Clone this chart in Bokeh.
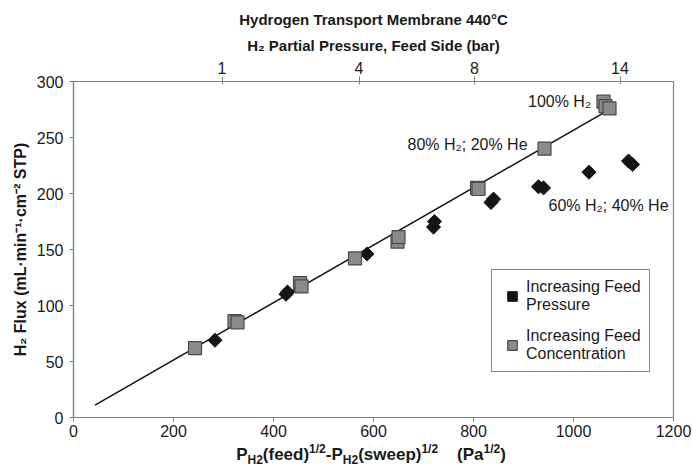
from bokeh.plotting import figure
from bokeh.models import (LinearAxis, FixedTicker, Legend, LegendItem, Div,
                          ColumnDataSource, Range1d)
from bokeh.layouts import column
from bokeh.core.properties import value
from bokeh.embed import file_html
from bokeh.resources import INLINE
import math

# ---------------- data ----------------
conc_x = [243, 322, 328, 453, 456, 563, 648, 650, 807, 810, 942, 1060, 1064, 1072]
conc_y = [62, 86, 85, 120, 117, 142, 157, 161, 205, 204, 240, 282, 278, 276]

press_x = [283, 425, 428, 587, 720, 722, 835, 840, 930, 940, 1031, 1110, 1118]
press_y = [69, 110, 112, 146, 170, 175, 192, 195, 206, 205, 219, 229, 226]

fit_slope = 0.2565
fit_x = [43, 1062]
fit_y = [fit_slope * v for v in fit_x]

x_ticks = [0, 200, 400, 600, 800, 1000, 1200]
y_ticks = [0, 50, 100, 150, 200, 250, 300]
top_ticks = [297, 571, 802, 1093]
top_labels = ["1", "4", "8", "14"]

anno_x = [909, 668, 950]
anno_y = [282, 244, 189]
anno_text = ["100% H₂", "80% H₂; 20% He", "60% H₂; 40% He"]

FONT = "Liberation Sans"
AXIS_GRAY = "#808080"
TXT = "#1a1a1a"

p = figure(width=692, height=440, output_backend="svg", toolbar_location=None,
           x_range=Range1d(0, 1200), y_range=Range1d(0, 300),
           min_border_left=73, min_border_right=19, min_border_top=81,
           min_border_bottom=23,
           title="Hydrogen Transport Membrane 440°C")
p.title.align = "center"
p.title.text_font = FONT
p.title.text_font_size = "15px"
p.title.text_font_style = "bold"
p.title.text_color = TXT
p.title.standoff = 12

p.grid.visible = False
p.outline_line_color = AXIS_GRAY
p.outline_line_width = 1.2
p.background_fill_color = "white"
p.border_fill_color = "white"

for ax in (p.xaxis[0], p.yaxis[0]):
    ax.axis_line_color = AXIS_GRAY
    ax.axis_line_width = 1.2
    ax.major_tick_line_color = AXIS_GRAY
    ax.major_tick_in = 0
    ax.major_tick_out = 4
    ax.minor_tick_line_color = None
    ax.major_label_text_font = FONT
    ax.major_label_text_font_size = "16px"
    ax.major_label_text_color = TXT
    ax.axis_label_text_font = FONT
    ax.axis_label_text_font_size = "16px"
    ax.axis_label_text_font_style = "bold"
    ax.axis_label_text_color = TXT

p.xaxis[0].ticker = FixedTicker(ticks=x_ticks)
p.yaxis[0].ticker = FixedTicker(ticks=y_ticks)
p.xaxis[0].major_label_standoff = 3
p.yaxis[0].major_label_standoff = 6
p.yaxis[0].axis_label = "H₂ Flux (mL·min⁻¹·cm⁻² STP)"
p.yaxis[0].axis_label_standoff = 5

top = LinearAxis(ticker=FixedTicker(ticks=top_ticks),
                 major_label_overrides={t: l for t, l in zip(top_ticks, top_labels)},
                 axis_label="H₂ Partial Pressure, Feed Side (bar)")
top.axis_line_color = AXIS_GRAY
top.axis_line_width = 1.2
top.major_tick_line_color = AXIS_GRAY
top.major_tick_in = 3
top.major_tick_out = 5
top.minor_tick_line_color = None
top.major_label_text_font = FONT
top.major_label_text_font_size = "16px"
top.major_label_text_color = TXT
top.major_label_standoff = 3
top.axis_label_text_font = FONT
top.axis_label_text_font_size = "15px"
top.axis_label_text_font_style = "bold"
top.axis_label_text_color = TXT
top.axis_label_standoff = 5
p.add_layout(top, "above")

# fit line
p.line(fit_x, fit_y, line_color="#111111", line_width=1.5)

# data
r_press = p.scatter(press_x, press_y, marker="square", size=10, angle=math.pi / 4,
                    fill_color="#151515", line_color="#151515", line_width=1)
r_conc = p.scatter(conc_x, conc_y, marker="square", size=13,
                   fill_color="#8a8a8a", line_color="#4a4a4a", line_width=1.2)

# annotations
src = ColumnDataSource(dict(x=anno_x, y=anno_y, t=anno_text))
p.text(x="x", y="y", text="t", source=src, text_font=value(FONT),
       text_font_size="16px", text_color=TXT, text_align="left",
       text_baseline="middle")

legend = Legend(items=[LegendItem(label="Increasing Feed\nPressure", renderers=[r_press]),
                       LegendItem(label="Increasing Feed\nConcentration", renderers=[r_conc])],
                location=(418, 45))
legend.label_text_font = FONT
legend.label_text_font_size = "16px"
legend.label_text_color = TXT
legend.label_text_line_height = 1.1
legend.border_line_color = "#111111"
legend.border_line_width = 1.2
legend.background_fill_alpha = 1
legend.glyph_width = 24
legend.glyph_height = 24
legend.label_standoff = 2
legend.spacing = 13
legend.padding = 8
legend.margin = 0
p.add_layout(legend, "center")

SUB = 'style="font-size:12px;line-height:0"'
xlabel = Div(
    text=('<div style="width:600px;margin-left:66px;text-align:center;'
          'font-family:\'Liberation Sans\',Arial,sans-serif;font-weight:bold;font-size:17px;'
          'color:#1a1a1a;line-height:20px;white-space:nowrap;">'
          f'P<sub {SUB}>H2</sub>(feed)'
          f'<sup {SUB}>1/2</sup>-P'
          f'<sub {SUB}>H2</sub>(sweep)'
          f'<sup {SUB}>1/2</sup>&nbsp;&nbsp;&nbsp;&nbsp;(Pa'
          f'<sup {SUB}>1/2</sup>)</div>'),
    width=692, height=30)

layout = column(p, xlabel, spacing=0)

open("out.html", "w").write(file_html(layout, INLINE))
